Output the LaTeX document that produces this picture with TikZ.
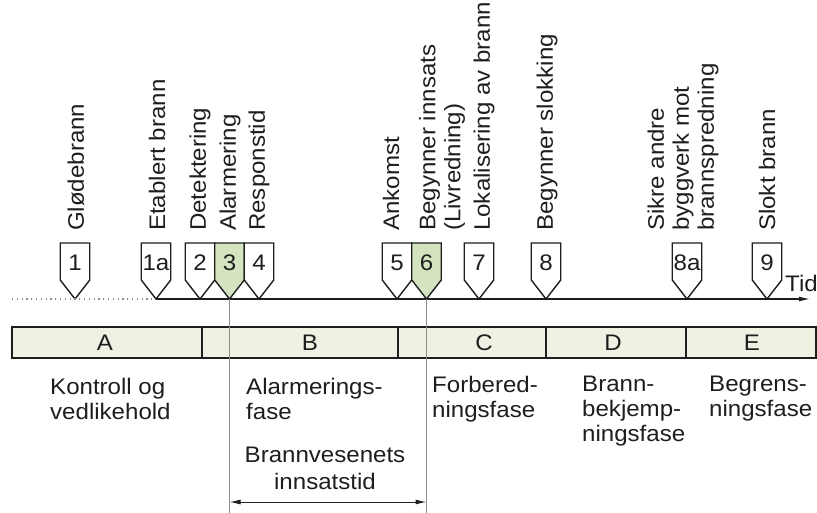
\documentclass[tikz,border=0pt]{standalone}
\usepackage{fontspec}
\setmainfont{Liberation Sans}[FakeStretch=1.07]
\usetikzlibrary{arrows.meta}
\definecolor{barfill}{RGB}{238,242,226}
\definecolor{mkgreen}{RGB}{212,228,192}
\definecolor{vgray}{RGB}{140,140,140}
\definecolor{ink}{RGB}{30,30,30}
\begin{document}
\begin{tikzpicture}[x=1pt,y=-1pt,
  font=\fontsize{22.5}{25}\selectfont, text=ink,
  mk/.style={draw=ink, line width=1.4pt},
  num/.style={inner sep=0pt, anchor=center},
  lbl/.style={rotate=90, anchor=west, align=left, inner sep=0pt},
  desc/.style={anchor=north west, align=left, inner sep=0pt},
  letter/.style={inner sep=0pt, anchor=center},
  tip/.style={-{Latex[length=11pt,width=5pt]}},
  dtip/.style={{Latex[length=11pt,width=5pt]}-{Latex[length=11pt,width=5pt]}}]
\useasboundingbox (0,0) rectangle (817,513);

% markers
\foreach \x/\n/\f in {75/1/white,156/1a/white,200/2/white,229.5/3/mkgreen,259/4/white,397/5/white,426.5/6/mkgreen,479/7/white,546/8/white,687/8a/white,767/9/white}{
  \draw[mk, fill=\f] (\x-14.75,243) -- (\x+14.75,243) -- (\x+14.75,280) -- (\x,299) -- (\x-14.75,280) -- cycle;
  \coordinate (t\n) at (\x,299);
  \node[num] (m\n) at (\x,262.5) {\n};
}

% time axis
\coordinate (axend) at (810,299);
\coordinate (axstart) at (12,299);
\draw[vgray, line width=1.2pt, dash pattern=on 1.2pt off 3.6pt] (axstart) -- (t1a);
\draw[ink, line width=1.2pt, tip] (t1a) -- (axend);
\node[inner sep=0pt, anchor=base west] (tid) at (785,291) {Tid};

% event labels
\node[lbl] (l1) at (76,231) {Glødebrann};
\node[lbl] (l1a) at (157,231) {Etablert brann};
\node[lbl] (l2) at (200,231) {Detektering};
\node[lbl] (l3) at (230,231) {Alarmering};
\node[lbl] (l4) at (259,231) {Responstid};
\node[lbl] (l5) at (391,231) {Ankomst};
\node[lbl] (l6) at (442,231) {Begynner innsats\\(Livredning)};
\node[lbl] (l7) at (484,231) {Lokalisering av brann};
\node[lbl] (l8) at (547,231) {Begynner slokking};
\node[lbl] (l8a) at (683,231) {Sikre andre\\byggverk mot\\brannspredning};
\node[lbl] (l9) at (767,231) {Slokt brann};

% phase bar
\draw[ink, line width=1.4pt, fill=barfill] (12,327) rectangle (816,358);
\foreach \d in {202,398,546,686}{
  \draw[ink, line width=1.4pt] (\d,327) -- (\d,358);
}
\node[letter] (pA) at (105,343) {A};
\node[letter] (pB) at (310,343) {B};
\node[letter] (pC) at (484,343) {C};
\node[letter] (pD) at (613,343) {D};
\node[letter] (pE) at (752,343) {E};

% gray reference lines
\coordinate (g3) at (229.5,513);
\coordinate (g6) at (426.5,513);
\draw[vgray, line width=1pt] (t3) -- (g3);
\draw[vgray, line width=1pt] (t6) -- (g6);

% phase descriptions
\node[desc] (dA) at (50,378) {Kontroll og\\vedlikehold};
\node[desc] (dB) at (246,378) {Alarmerings-\\fase};
\node[desc] (dC) at (432,376) {Forbered-\\ningsfase};
\node[desc] (dD) at (582,376) {Brann-\\bekjemp-\\ningsfase};
\node[desc] (dE) at (709,376) {Begrens-\\ningsfase};
\node[anchor=north, align=center, inner sep=0pt, font=\fontsize{22.5}{27}\selectfont] (bv) at (325,447) {Brannvesenets\\innsatstid};

% response time arrow
\coordinate (r1) at (229.5,502);
\coordinate (r2) at (426.5,502);
\draw[ink, line width=1pt, dtip] (r1) -- (r2);
\end{tikzpicture}
\end{document}
